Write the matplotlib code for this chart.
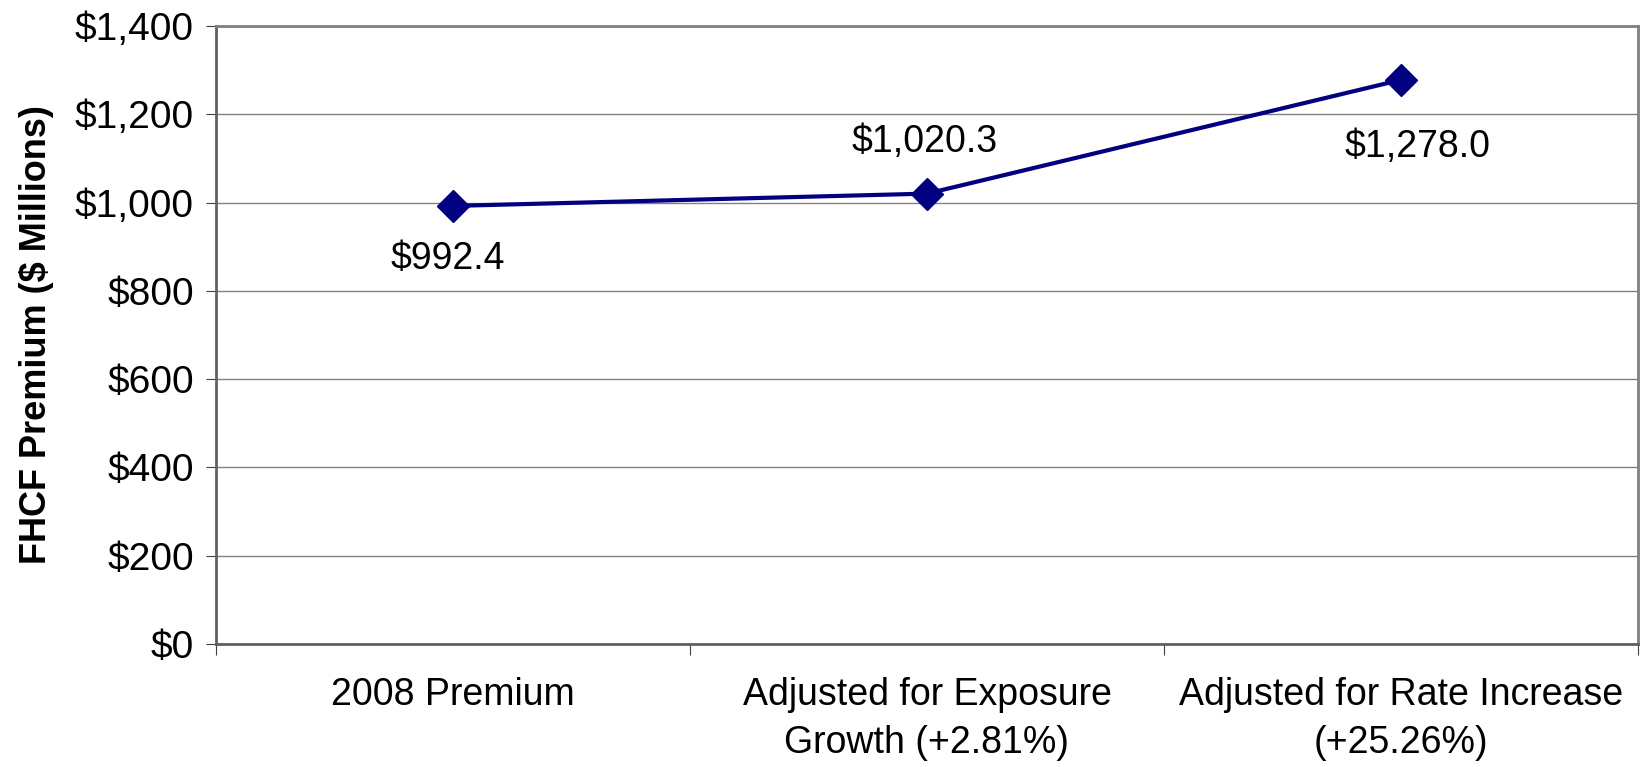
import matplotlib.pyplot as plt
import numpy as np

plt.rcParams['font.family'] = ['Liberation Sans', 'DejaVu Sans']

categories = ['2008 Premium', 'Adjusted for Exposure\nGrowth (+2.81%)', 'Adjusted for Rate Increase\n(+25.26%)']
values = [992.4, 1020.3, 1278.0]
labels = ['$992.4', '$1,020.3', '$1,278.0']
yticks = [0, 200, 400, 600, 800, 1000, 1200, 1400]
ytick_labels = ['$0', '$200', '$400', '$600', '$800', '$1,000', '$1,200', '$1,400']

# label offsets in points (dx, dy)
offsets = [(-4, -38), (-2, 37), (12, -48)]

fig = plt.figure(figsize=(16.49, 7.67), dpi=100)
ax = fig.add_axes([216/1649, 1-644/767, (1638-216)/1649, (644-26)/767])

x = np.arange(len(values))
ax.plot(x, values, color='#000080', lw=3, marker='D', ms=16, zorder=3)

for xi, v, lab, off in zip(x, values, labels, offsets):
    ax.annotate(lab, (xi, v), xytext=off, textcoords='offset points',
                ha='center', va='center', fontsize=27)

ax.set_xlim(-0.5, len(values)-0.5)
ax.set_ylim(0, 1400)
ax.set_yticks(yticks)
ax.set_yticklabels(ytick_labels, fontsize=28)
ax.yaxis.grid(True, color='#808080', lw=1)
ax.set_axisbelow(True)

ax.set_xticks(np.arange(len(values)+1)-0.5)
ax.set_xticklabels([])
ax.set_xticks(x, minor=True)
ax.set_xticklabels(categories, minor=True, fontsize=27, linespacing=1.4)
ax.tick_params(axis='x', which='minor', length=0, pad=24)
ax.tick_params(axis='x', which='major', length=8, color='#404040')
ax.tick_params(axis='y', length=7, color='#404040', pad=9)

ax.set_ylabel('FHCF Premium ($ Millions)', fontsize=26, fontweight='bold')
ax.yaxis.set_label_coords(-(216-54)/1422, 0.5)

for s in ['top', 'right']:
    ax.spines[s].set_color('#808080')
    ax.spines[s].set_linewidth(2)
for s in ['left', 'bottom']:
    ax.spines[s].set_color('#606060')
    ax.spines[s].set_linewidth(2)

fig.savefig('out.png', dpi=100, facecolor='white')
